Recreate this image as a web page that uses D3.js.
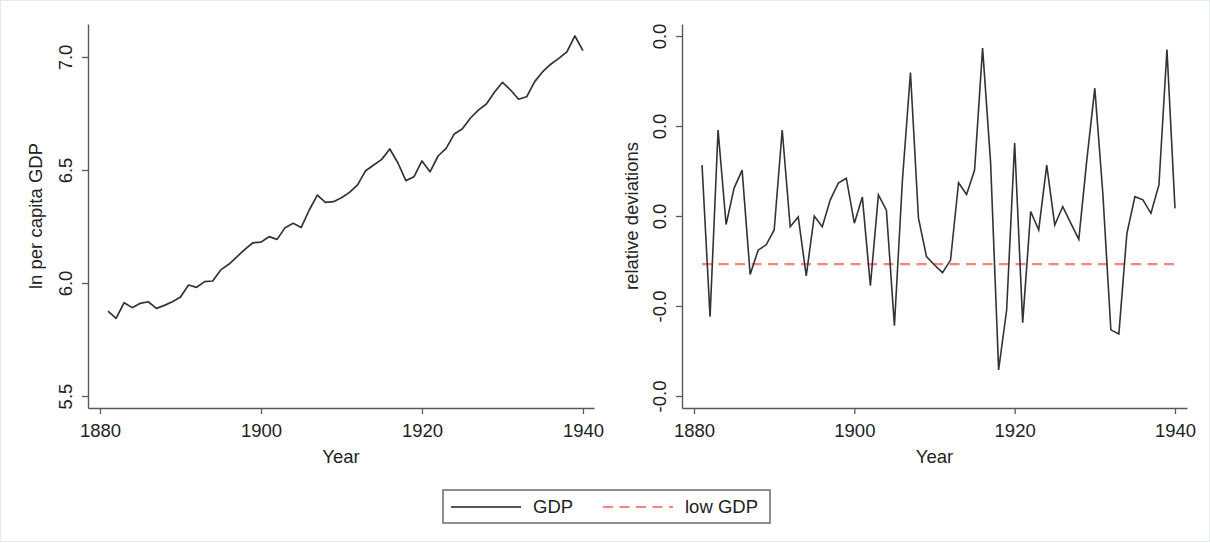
<!DOCTYPE html>
<html>
<head>
<meta charset="utf-8">
<script src="https://cdn.jsdelivr.net/npm/d3@7"></script>
<style>
    body { margin: 0; background: #fff; }
    svg { display: block; font-family: "Liberation Sans", Arial, sans-serif; }
</style>
</head>
<body>
<div id="chart"></div>
<script>
// data
var years = [1881, 1882, 1883, 1884, 1885, 1886, 1887, 1888, 1889, 1890,
    1891, 1892, 1893, 1894, 1895, 1896, 1897, 1898, 1899, 1900,
    1901, 1902, 1903, 1904, 1905, 1906, 1907, 1908, 1909, 1910,
    1911, 1912, 1913, 1914, 1915, 1916, 1917, 1918, 1919, 1920,
    1921, 1922, 1923, 1924, 1925, 1926, 1927, 1928, 1929, 1930,
    1931, 1932, 1933, 1934, 1935, 1936, 1937, 1938, 1939, 1940];

var lnGdp = [5.876, 5.844, 5.913, 5.891, 5.910, 5.917, 5.888, 5.901, 5.917, 5.938,
    5.991, 5.981, 6.006, 6.009, 6.058, 6.083, 6.116, 6.149, 6.178, 6.181,
    6.205, 6.193, 6.245, 6.264, 6.246, 6.323, 6.389, 6.357, 6.360, 6.377,
    6.401, 6.434, 6.497, 6.522, 6.547, 6.593, 6.532, 6.453, 6.470, 6.540,
    6.492, 6.562, 6.596, 6.659, 6.681, 6.729, 6.765, 6.792, 6.844, 6.888,
    6.854, 6.813, 6.824, 6.891, 6.935, 6.968, 6.994, 7.023, 7.093, 7.028];

var relDev = [0.0113, -0.0224, 0.0191, -0.0019, 0.0062, 0.0102, -0.0130, -0.0076, -0.0064, -0.0031,
    0.0191, -0.0024, -0.0002, -0.0133, 0.0000, -0.0024, 0.0036, 0.0073, 0.0084, -0.0016,
    0.0042, -0.0155, 0.0047, 0.0013, -0.0244, 0.0080, 0.0319, -0.0005, -0.0090, -0.0109,
    -0.0126, -0.0098, 0.0074, 0.0048, 0.0102, 0.0373, 0.0118, -0.0342, -0.0209, 0.0162,
    -0.0237, 0.0010, -0.0031, 0.0113, -0.0020, 0.0021, -0.0016, -0.0052, 0.0124, 0.0284,
    0.0050, -0.0253, -0.0262, -0.0039, 0.0043, 0.0036, 0.0006, 0.0069, 0.0370, 0.0017];

var lowGdp = -0.0107;

var yearTicks = [1880, 1900, 1920, 1940];
var gdpTicks = [5.5, 6.0, 6.5, 7.0];
var devTicks = [-0.04, -0.02, 0, 0.02, 0.04];
var devTickLabels = ["-0.0", "-0.0", "0.0", "0.0", "0.0"];

var legendLabels = ["GDP", "low GDP"];

var width = 1210, height = 543;
var lineColor = "#333333",
    lowColor = "#ff8080",
    axisColor = "#5a5a5a",
    textColor = "#222222",
    fontSize = 18.5;

var svg = d3.select("#chart").append("svg")
    .attr("width", width)
    .attr("height", height);

// faint frame round the whole graph
svg.append("rect")
    .attr("x", 0.5).attr("y", 0.5)
    .attr("width", width - 1).attr("height", height - 2)
    .style("fill", "#fff")
    .style("stroke", "#e4eaec");

function drawPanel(p) {
    var x = d3.scaleLinear().domain(p.xDomain).range([p.left, p.right]);
    var y = d3.scaleLinear().domain(p.yDomain).range([p.bottom, p.top]);

    var g = svg.append("g").attr("class", "panel");

    // x axis
    var xAxis = g.append("g")
        .attr("transform", "translate(0," + p.bottom + ")")
        .call(d3.axisBottom(x).tickValues(yearTicks).tickFormat(d3.format("d"))
            .tickSize(6).tickSizeOuter(0).tickPadding(10));

    // y axis, labels turned on their side
    var yAxis = g.append("g")
        .attr("transform", "translate(" + p.left + ",0)")
        .call(d3.axisLeft(y).tickValues(p.yTicks).tickFormat(p.yFormat)
            .tickSize(6).tickSizeOuter(0));
    yAxis.selectAll(".tick text")
        .attr("x", 0)
        .attr("y", -16)
        .attr("dy", 0)
        .attr("transform", "rotate(-90)")
        .style("text-anchor", "middle");

    [xAxis, yAxis].forEach(function (a) {
        a.select(".domain").style("stroke", axisColor).style("stroke-width", 1.4);
        a.selectAll(".tick line").style("stroke", axisColor).style("stroke-width", 1.3);
        a.selectAll(".tick text")
            .style("font-size", fontSize + "px")
            .style("fill", textColor)
            .style("font-family", "'Liberation Sans', Arial, sans-serif");
    });

    // axis titles
    g.append("text")
        .attr("x", (p.left + p.right) / 2)
        .attr("y", 463)
        .style("text-anchor", "middle")
        .style("font-size", fontSize + "px")
        .style("fill", textColor)
        .text("Year");

    g.append("text")
        .attr("transform", "translate(" + p.titleX + "," + ((p.top + p.bottom) / 2) + ") rotate(-90)")
        .style("text-anchor", "middle")
        .style("font-size", fontSize + "px")
        .style("fill", textColor)
        .text(p.yTitle);

    return {x: x, y: y, g: g};
}

// left panel: ln per capita GDP
var left = drawPanel({
    left: 88, right: 594, top: 24, bottom: 408,
    xDomain: [1878.51, 1941.37],
    yDomain: [5.447, 7.146],
    yTicks: gdpTicks,
    yFormat: d3.format(".1f"),
    yTitle: "ln per capita GDP",
    titleX: 42
});

left.g.append("path")
    .datum(years)
    .attr("d", d3.line()
        .x(function (d) { return left.x(d); })
        .y(function (d, i) { return left.y(lnGdp[i]); }))
    .style("fill", "none")
    .style("stroke", lineColor)
    .style("stroke-width", 1.7)
    .style("stroke-linejoin", "round");

// right panel: relative deviations
var right = drawPanel({
    left: 682, right: 1187, top: 24, bottom: 408,
    xDomain: [1878.5, 1941.5],
    yDomain: [-0.04267, 0.04267],
    yTicks: devTicks,
    yFormat: function (d, i) { return devTickLabels[i]; },
    yTitle: "relative deviations",
    titleX: 638
});

right.g.append("line")
    .attr("x1", right.x(years[0]))
    .attr("x2", right.x(years[years.length - 1]))
    .attr("y1", right.y(lowGdp))
    .attr("y2", right.y(lowGdp))
    .style("stroke", lowColor)
    .style("stroke-width", 2.2)
    .style("stroke-dasharray", "10,6.5");

right.g.append("path")
    .datum(years)
    .attr("d", d3.line()
        .x(function (d) { return right.x(d); })
        .y(function (d, i) { return right.y(relDev[i]); }))
    .style("fill", "none")
    .style("stroke", lineColor)
    .style("stroke-width", 1.6)
    .style("stroke-linejoin", "miter");

// legend
var legend = svg.append("g").attr("class", "legend");
legend.append("rect")
    .attr("x", 443).attr("y", 490)
    .attr("width", 327).attr("height", 33)
    .style("fill", "#fff")
    .style("stroke", "#6a6a6a")
    .style("stroke-width", 1.5);

var legendX = [451, 603];
legendLabels.forEach(function (label, i) {
    legend.append("line")
        .attr("x1", legendX[i]).attr("x2", legendX[i] + 70)
        .attr("y1", 507).attr("y2", 507)
        .style("stroke", i === 0 ? "#555" : lowColor)
        .style("stroke-width", i === 0 ? 2 : 2.2)
        .style("stroke-dasharray", i === 0 ? null : "10,6.5");
    legend.append("text")
        .attr("x", legendX[i] + 82)
        .attr("y", 513)
        .style("font-size", fontSize + "px")
        .style("fill", textColor)
        .text(label);
});
</script>
</body>
</html>
